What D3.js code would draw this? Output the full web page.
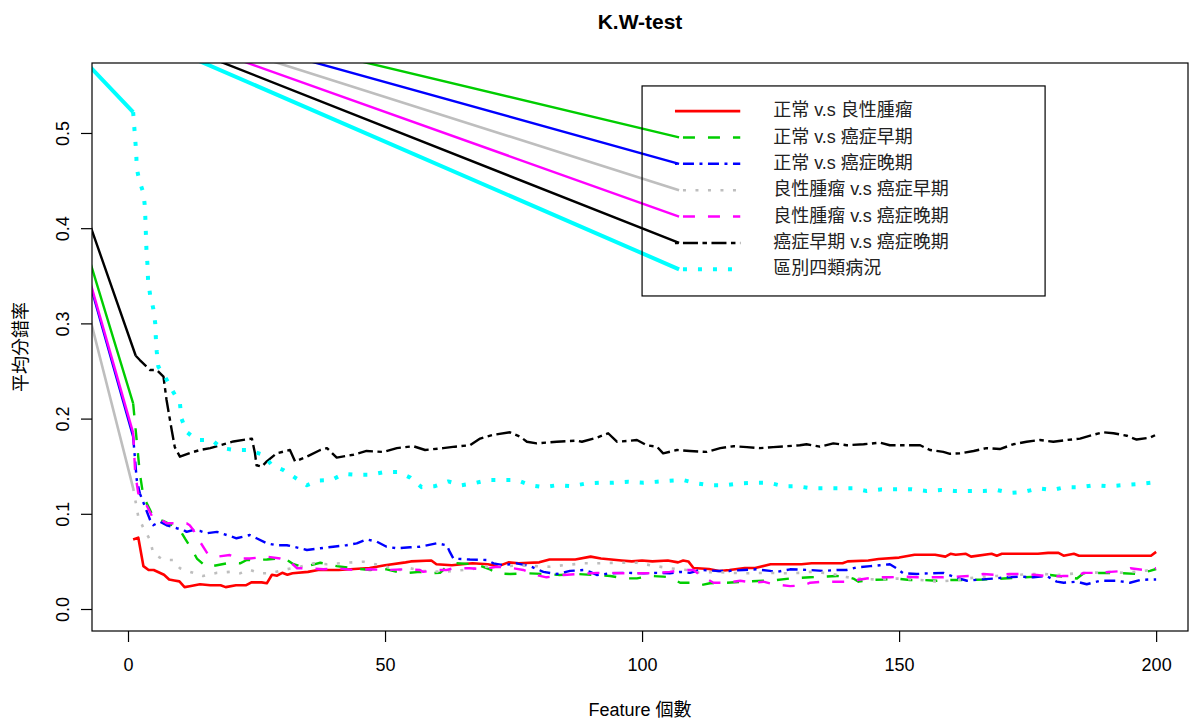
<!DOCTYPE html>
<html>
<head>
<meta charset="utf-8">
<script src="https://d3js.org/d3.v7.min.js"></script>
<style>
  html, body { margin: 0; padding: 0; background: #fff; }
  svg { display: block; font-family: 'Liberation Sans', Arial, Helvetica, 'Noto Sans CJK TC', sans-serif; }
</style>
</head>
<body>
<div id="chart"></div>
<script>
const WIDTH = 1189;
const HEIGHT = 722;
const PLOT = { left: 92, right: 1188, top: 63, bottom: 631 };

const X_TICKS = [0, 50, 100, 150, 200];
const Y_TICKS = [0, 0.1, 0.2, 0.3, 0.4, 0.5];

const SERIES_NAMES = ['正常 v.s 良性腫瘤', '正常 v.s 癌症早期', '正常 v.s 癌症晚期', '良性腫瘤 v.s 癌症早期',
  '良性腫瘤 v.s 癌症晚期', '癌症早期 v.s 癌症晚期', '區別四類病況'];

// [feature count, mean error rate]
const red = [[1,.073],[2,.075],[3,.045],[4,.041],[5,.041],[7,.036],[8,.031],[9,.030],[10,.029],[11,.023],[12,.024],[14,.026],[16,.025],[18,.025],[19,.023],[21,.025],[23,.025],[24,.028],[26,.028],[27,.027],[28,.036],[29,.035],[30,.038],[31,.036],[32,.0375],[35,.039],[37,.041],[41,.041],[44,.042],[47,.043],[50,.046],[54,.049],[55,.050],[59,.051],[60,.047],[63,.046],[67,.048],[70,.047],[72,.045],[74,.049],[76,.048],[80,.049],[82,.052],[87,.052],[90,.055],[92,.053],[96,.051],[98,.050],[100,.051],[102,.050],[105,.051],[107,.049],[108,.051],[109,.050],[110,.043],[113,.042],[115,.040],[117,.041],[120,.043],[122,.043],[125,.047],[131,.047],[133,.048],[139,.048],[140,.050],[144,.051],[146,.0525],[150,.054],[153,.057],[157,.057],[159,.055],[160,.058],[161,.057],[163,.058],[164,.055],[168,.058],[169,.056],[170,.058],[177,.058],[179,.059],[181,.059],[182,.056],[184,.058],[185,.056],[199,.056],[200,.060]];
const green = [[1,.216],[2.3,.1425],[3,.118],[4.3,.104],[4.9,.097],[7,.092],[9,.087],[10.1,.083],[11.1,.074],[12.4,.063],[13.4,.053],[15.3,.044],[17.3,.046],[19.8,.0486],[21.8,.048],[23.1,.0515],[25,.0515],[27,.052],[28.9,.053],[30.9,.0515],[32.2,.047],[34.1,.044],[37.4,.0486],[40.6,.045],[43.8,.0428],[47.1,.041],[50.3,.0417],[53.6,.0375],[56.8,.039],[58.1,.0375],[60.7,.038],[62,.0444],[63.9,.048],[67.8,.047],[70.4,.0417],[71.7,.0375],[74.3,.0368],[77.6,.0375],[80.8,.0368],[84,.0357],[87.3,.0368],[90.5,.0357],[93.8,.0347],[96.4,.0322],[99,.0322],[101.6,.0347],[104.1,.034],[105.4,.0333],[107.4,.0276],[109.3,.0276],[111.3,.025],[113.2,.027],[116.5,.0276],[119.7,.0287],[123.6,.0297],[126.2,.0305],[128.8,.032],[132.7,.0333],[135.3,.034],[137.9,.0347],[139.8,.034],[141.1,.032],[142.1,.0287],[144.4,.0305],[147,.031],[149.5,.032],[152.1,.0305],[154.7,.0305],[157.3,.0297],[159.9,.0305],[162.5,.0305],[166.4,.031],[170.3,.032],[174.2,.0333],[176.8,.034],[179.4,.0357],[182,.034],[184.6,.032],[185.9,.0375],[189.7,.038],[193.6,.0375],[196.2,.0368],[198.8,.040],[200,.042]];
const blue = [[1,.181],[1.7,.1355],[2.3,.1215],[3.3,.1075],[4.3,.0935],[4.9,.088],[6.2,.0917],[7.5,.088],[9.5,.0848],[10.8,.083],[11.4,.081],[12.7,.083],[14,.082],[15.3,.0795],[17.3,.081],[19.2,.0777],[21.1,.0743],[23.7,.0777],[25,.0743],[27,.069],[28.9,.067],[30.9,.067],[33.5,.0638],[34.8,.062],[37.4,.0638],[39.9,.0654],[42.5,.067],[44.5,.069],[46.4,.0732],[48.4,.0707],[50.3,.0654],[52.3,.0638],[54.9,.0648],[56.8,.0654],[60.1,.069],[62,.067],[62.6,.060],[63.3,.053],[66.5,.052],[69.8,.0515],[71.1,.048],[73,.046],[75.6,.048],[78.2,.045],[80.8,.039],[83.4,.0368],[86,.040],[88.6,.041],[89.9,.039],[91.2,.0357],[93.8,.0375],[97,.038],[100.3,.0375],[102.9,.038],[105.4,.0375],[107.4,.039],[109.3,.038],[111.3,.041],[114.5,.040],[117.1,.040],[119.7,.041],[122.3,.0417],[124.9,.040],[126.2,.039],[128.8,.0417],[132.7,.041],[135.3,.040],[137.9,.041],[139.8,.041],[141.8,.0438],[144.4,.045],[146.3,.046],[148.2,.047],[149.5,.0428],[150.8,.0375],[153.4,.0368],[156,.0375],[158.6,.038],[160.5,.034],[163.2,.0297],[165.8,.031],[168.4,.032],[170.9,.0333],[173.5,.034],[176.1,.0333],[178.7,.0347],[180.7,.0287],[182,.0276],[184.6,.0287],[186.5,.026],[189.1,.0297],[192.3,.0297],[194.9,.0276],[196.9,.0305],[198.5,.031],[200,.031]];
const gray = [[1,.127],[2,.097],[3,.085],[4.3,.0725],[4.9,.0585],[6.9,.0515],[8.8,.0515],[10.1,.0428],[12.1,.039],[14.6,.0347],[17.3,.038],[19.8,.039],[21.8,.0375],[23.7,.041],[25.7,.0375],[27.6,.0375],[30.2,.041],[33.5,.0444],[36.1,.048],[38.7,.047],[42.5,.0486],[45.8,.0497],[49,.046],[52.9,.041],[54.9,.0428],[57.4,.040],[61.3,.039],[66.5,.0417],[70.4,.045],[73,.0444],[75.6,.046],[79.5,.045],[82.1,.0444],[84.7,.046],[88.6,.048],[91.2,.048],[95.1,.0486],[99,.0486],[101.6,.046],[105.4,.0428],[108.7,.041],[111.3,.038],[114.5,.039],[117.1,.038],[119.7,.0375],[124.9,.038],[127.5,.0375],[130.7,.038],[132.7,.039],[136.6,.0375],[139.2,.034],[141.8,.032],[145.7,.031],[149.5,.032],[153.4,.031],[157.3,.0287],[161.2,.0305],[165.1,.0333],[169,.0347],[172.9,.0357],[175.5,.0368],[178.1,.0368],[180.7,.0357],[184.6,.0375],[187.2,.038],[191.1,.039],[193.6,.038],[197.5,.040],[200,.0417]];
const magenta = [[1,.185],[1.4,.1425],[2,.1215],[3,.1145],[3.6,.109],[4.9,.095],[6.2,.095],[7.5,.090],[9.5,.090],[11.4,.090],[12,.088],[12.7,.083],[14,.0707],[15.6,.057],[17.3,.055],[19.8,.0567],[21.8,.053],[23.7,.053],[27,.055],[29.6,.053],[31.5,.0497],[32.9,.0428],[35.4,.0428],[38,.0417],[40.6,.0428],[43.8,.041],[47.1,.0417],[50.3,.041],[53.6,.0417],[56.8,.041],[57.4,.039],[60.1,.041],[62,.041],[63.3,.0428],[66.5,.0428],[69.1,.0417],[71.7,.0444],[74.3,.0434],[76.9,.041],[79.5,.0357],[81.4,.0333],[84.7,.0357],[87.9,.0368],[91.2,.038],[93.8,.038],[97,.0375],[100.3,.0375],[102.9,.038],[105.4,.039],[108,.041],[110,.041],[111.3,.0357],[113.9,.0276],[116.5,.0276],[119.1,.0297],[121.7,.0276],[123.6,.0287],[125.6,.026],[128.8,.024],[131.4,.025],[132.7,.0276],[135.3,.0287],[137.9,.0287],[140.5,.0287],[141.8,.0305],[143.7,.032],[145.7,.0333],[148.2,.0333],[150.8,.034],[153.4,.0333],[156,.0333],[158.6,.0333],[161.2,.034],[163.8,.0347],[166.4,.0368],[169,.0357],[171.6,.0368],[174.2,.0368],[176.8,.0357],[179.4,.034],[182,.0347],[184.6,.0347],[185.9,.038],[188.5,.038],[191.1,.039],[193.6,.040],[195,.0428],[197.5,.041],[200,.0428]];
const black = [[1.5,.266],[2.3,.2615],[4.3,.251],[5.6,.251],[6.9,.244],[7.5,.2195],[8.5,.188],[9.1,.170],[10.1,.160],[12.1,.164],[14,.167],[16,.169],[17.9,.172],[20.5,.176],[24.1,.179],[24.7,.1635],[25,.151],[26,.1495],[27,.155],[28.9,.1635],[31.5,.167],[32.5,.155],[34.8,.160],[37.4,.167],[38.7,.169],[40.6,.159],[43.8,.162],[46.4,.166],[49.7,.165],[52.3,.169],[55.5,.171],[57.8,.167],[61.3,.169],[63.6,.1705],[66.5,.172],[68.5,.179],[71.1,.183],[74.3,.1856],[76.3,.181],[77.6,.1757],[79.5,.174],[83.4,.1757],[87.3,.1768],[88.3,.1757],[91.2,.180],[93.4,.1846],[95.1,.1757],[97.7,.1768],[99,.1775],[100.9,.172],[102.9,.1705],[104.1,.1635],[106.8,.167],[109.3,.166],[112.6,.165],[115.2,.169],[117.8,.171],[120.4,.170],[122.9,.169],[125.5,.170],[128.1,.171],[130.7,.172],[132,.173],[134.6,.1705],[137.2,.174],[139.8,.172],[143.1,.173],[146.3,.1747],[148.2,.172],[154.1,.172],[156,.167],[158.6,.165],[159.9,.163],[161.9,.1635],[164.5,.166],[167,.169],[169.6,.168],[172.2,.173],[174.8,.1757],[177.4,.1775],[180,.1757],[182.6,.1775],[185.2,.179],[187.8,.183],[189.7,.1856],[191.7,.1846],[194.3,.182],[196.2,.178],[198.8,.180],[200,.183]];
const cyan = [[1,.522],[1.6,.479],[1.7,.463],[2.2,.450],[3,.437],[3.3,.422],[3.5,.391],[3.6,.375],[3.8,.361],[3.9,.3456],[4.3,.330],[4.9,.316],[5.3,.300],[5.4,.286],[5.6,.270],[5.9,.2545],[7.2,.244],[8.8,.228],[10.1,.216],[10.4,.200],[11.4,.186],[13.4,.1775],[16.3,.1775],[18.2,.169],[20.8,.167],[23.4,.167],[26.3,.162],[28,.151],[30.2,.146],[32.2,.139],[34.8,.130],[37,.135],[39.6,.1355],[41.9,.142],[44.5,.141],[47.1,.141],[50,.144],[52.6,.144],[54.9,.138],[57.1,.128],[59.7,.129],[62.3,.134],[64.9,.130],[67.2,.132],[70.1,.1355],[73,.1355],[75.6,.1355],[78.2,.130],[80.8,.128],[83.4,.130],[86.3,.129],[89.2,.132],[91.8,.1327],[94.4,.1327],[97.3,.1337],[100.3,.1327],[102.9,.1337],[105.4,.1348],[108,.1355],[110.6,.132],[113.2,.130],[116.1,.130],[119.1,.132],[121.7,.1327],[124.6,.1327],[127.5,.129],[130.1,.129],[133,.1268],[135.6,.1268],[138.4,.1268],[141.1,.1268],[143.7,.124],[146.6,.1257],[149.5,.1257],[152.5,.1257],[155.3,.124],[158.1,.125],[160.7,.124],[163.5,.124],[166.4,.124],[169,.125],[171.6,.122],[174.3,.123],[177.1,.1268],[179.9,.125],[182.3,.128],[185.1,.128],[187.9,.130],[190.9,.129],[193.3,.130],[196.2,.131],[199.1,.1327],[200,.133]];

// stray straight lines in the original: legend sample -> point off the plot -> first value
const STRAY_POINT = [-24.3, 0.665];
const STRAY_END_X = 107.2;

// legend placement in data units (like R's legend(x, y))
const LEGEND_BOX = { x0: 100, x1: 178.4, y0: 0.5494, y1: 0.3288 };
const LEGEND_ROW0 = 0.523;
const LEGEND_STEP = 0.0277;
const LEGEND_LINE = [106.4, 119.1];
const LEGEND_TEXT_X = 125.5;

const series = [
  { name: SERIES_NAMES[0], values: red,     color: '#FF0000', width: 2.6, dash: null,              stray: false },
  { name: SERIES_NAMES[1], values: green,   color: '#00CD00', width: 2.4, dash: '12,13',           stray: true },
  { name: SERIES_NAMES[2], values: blue,    color: '#0000FF', width: 2.4, dash: '11,5.5,3,5.5',    stray: true },
  { name: SERIES_NAMES[3], values: gray,    color: '#BEBEBE', width: 2.6, dash: '3,9.5',           stray: true },
  { name: SERIES_NAMES[4], values: magenta, color: '#FF00FF', width: 2.4, dash: '12,13',           stray: true },
  { name: SERIES_NAMES[5], values: black,   color: '#000000', width: 2.4, dash: '15,4.5,4.5,4.5',  stray: true },
  { name: SERIES_NAMES[6], values: cyan,    color: '#00FFFF', width: 4,   dash: '4,11',            stray: true }
];

const x = d3.scaleLinear().domain([-7.004, 206.2]).range([PLOT.left, PLOT.right]);
const y = d3.scaleLinear().domain([-0.0231, 0.5735]).range([PLOT.bottom, PLOT.top]);

const svg = d3.select('#chart').append('svg')
    .attr('width', WIDTH)
    .attr('height', HEIGHT);

svg.append('defs').append('clipPath')
    .attr('id', 'plot-clip')
  .append('rect')
    .attr('x', PLOT.left)
    .attr('y', PLOT.top)
    .attr('width', PLOT.right - PLOT.left)
    .attr('height', PLOT.bottom - PLOT.top);

const line = d3.line().x(d => x(d[0])).y(d => y(d[1]));

const plotArea = svg.append('g').attr('clip-path', 'url(#plot-clip)');

// stray solid lines
series.forEach((s, i) => {
    if (!s.stray) return;
    const rowY = LEGEND_ROW0 - i * LEGEND_STEP;
    plotArea.append('path')
        .attr('d', line([[STRAY_END_X, rowY], STRAY_POINT, s.values[0]]))
        .attr('fill', 'none')
        .attr('stroke', s.color)
        .attr('stroke-width', s.width)
        .attr('stroke-linejoin', 'round');
});

// series
series.forEach(s => {
    plotArea.append('path')
        .attr('d', line(s.values))
        .attr('fill', 'none')
        .attr('stroke', s.color)
        .attr('stroke-width', s.width)
        .attr('stroke-linejoin', 'round')
        .attr('stroke-dasharray', s.dash);
});

// box
svg.append('rect')
    .attr('x', PLOT.left)
    .attr('y', PLOT.top)
    .attr('width', PLOT.right - PLOT.left)
    .attr('height', PLOT.bottom - PLOT.top)
    .attr('fill', 'none')
    .attr('stroke', '#000')
    .attr('stroke-width', 1.2);

// axes
const xAxis = svg.append('g')
    .attr('transform', `translate(0,${PLOT.bottom})`)
    .call(d3.axisBottom(x).tickValues(X_TICKS).tickFormat(d3.format('d')).tickSize(11).tickSizeOuter(0));
xAxis.select('.domain').remove();
xAxis.selectAll('line').attr('stroke', '#000').attr('stroke-width', 1.2);
xAxis.selectAll('text')
    .attr('y', 40)
    .attr('dy', null)
    .attr('fill', '#000')
    .style('font-size', '18px')
    .style('font-family', null);

const yAxis = svg.append('g')
    .attr('transform', `translate(${PLOT.left},0)`)
    .call(d3.axisLeft(y).tickValues(Y_TICKS).tickFormat(d3.format('.1f')).tickSize(11).tickSizeOuter(0));
yAxis.select('.domain').remove();
yAxis.selectAll('line').attr('stroke', '#000').attr('stroke-width', 1.2);
yAxis.selectAll('text')
    .attr('x', null)
    .attr('dy', null)
    .attr('text-anchor', 'middle')
    .attr('transform', 'translate(-23,0) rotate(-90)')
    .attr('fill', '#000')
    .style('font-size', '18px')
    .style('font-family', null);
svg.selectAll('.tick text').attr('font-family', null).attr('font-size', null);
xAxis.attr('font-family', null).attr('font-size', null);
yAxis.attr('font-family', null).attr('font-size', null);

// titles
svg.append('text')
    .attr('x', (PLOT.left + PLOT.right) / 2)
    .attr('y', 29)
    .attr('text-anchor', 'middle')
    .style('font-size', '21px')
    .style('font-weight', 'bold')
    .text('K.W-test');

svg.append('text')
    .attr('x', (PLOT.left + PLOT.right) / 2)
    .attr('y', 716)
    .attr('text-anchor', 'middle')
    .style('font-size', '18px')
    .text('Feature 個數');

svg.append('text')
    .attr('transform', `translate(27,${(PLOT.top + PLOT.bottom) / 2}) rotate(-90)`)
    .attr('text-anchor', 'middle')
    .style('font-size', '18px')
    .text('平均分錯率');

// legend
const legend = svg.append('g');
legend.append('rect')
    .attr('x', x(LEGEND_BOX.x0))
    .attr('y', y(LEGEND_BOX.y0))
    .attr('width', x(LEGEND_BOX.x1) - x(LEGEND_BOX.x0))
    .attr('height', y(LEGEND_BOX.y1) - y(LEGEND_BOX.y0))
    .attr('fill', 'none')
    .attr('stroke', '#000')
    .attr('stroke-width', 1.2);

series.forEach((s, i) => {
    const rowY = LEGEND_ROW0 - i * LEGEND_STEP;
    legend.append('line')
        .attr('x1', x(LEGEND_LINE[0]))
        .attr('x2', x(LEGEND_LINE[1]))
        .attr('y1', y(rowY))
        .attr('y2', y(rowY))
        .attr('stroke', s.color)
        .attr('stroke-width', s.width)
        .attr('stroke-dasharray', s.dash)
        .attr('stroke-dashoffset', s.dash ? -8 : null);
    legend.append('text')
        .attr('x', x(LEGEND_TEXT_X))
        .attr('y', y(rowY))
        .attr('dy', '0.62em')
        .attr('dominant-baseline', 'auto')
        .style('font-size', '18px')
        .attr('fill', '#222')
        .text(s.name)
        .attr('transform', 'translate(0,-6)');
});
</script>
</body>
</html>
